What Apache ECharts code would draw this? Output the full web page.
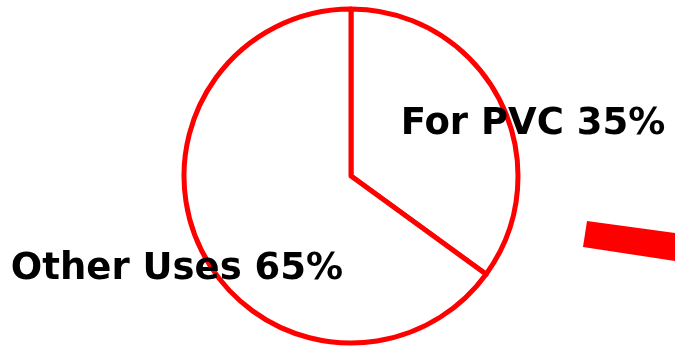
<!DOCTYPE html>
<html>
<head>
<meta charset="utf-8">
<script src="https://cdn.jsdelivr.net/npm/echarts@6/dist/echarts.min.js"></script>
<style>
html,body{margin:0;padding:0;background:#fff;}
#chart{width:675px;height:348px;}
</style>
</head>
<body>
<div id="chart"></div>
<script>
var categories = ['For PVC', 'Other Uses'];
var values = [35, 65];
var labelSpots = [[533, 124], [177, 269]];

var chart = echarts.init(document.getElementById('chart'), null, {renderer: 'canvas'});
chart.setOption({
  backgroundColor: '#ffffff',
  animation: false,
  series: [{
    type: 'pie',
    center: [351, 176],
    radius: [0, 167],
    startAngle: 90,
    clockwise: true,
    silent: true,
    itemStyle: {color: '#ffffff', borderColor: '#ff0000', borderWidth: 5},
    label: {
      show: true,
      position: 'inside',
      formatter: function (p) { return p.name + ' ' + p.value + '%'; },
      fontFamily: 'DejaVu Sans',
      fontWeight: 'bold',
      fontSize: 37,
      color: '#000000'
    },
    labelLine: {show: false},
    labelLayout: function (p) {
      var s = labelSpots[p.dataIndex];
      return {x: s[0], y: s[1], align: 'center', verticalAlign: 'middle'};
    },
    data: categories.map(function (c, i) { return {name: c, value: values[i]}; })
  }],
  graphic: [{
    type: 'polygon',
    shape: {points: [[587, 221], [675, 233], [675, 261], [583, 247]]},
    style: {fill: '#ff0000'},
    silent: true
  }]
});
</script>
</body>
</html>
